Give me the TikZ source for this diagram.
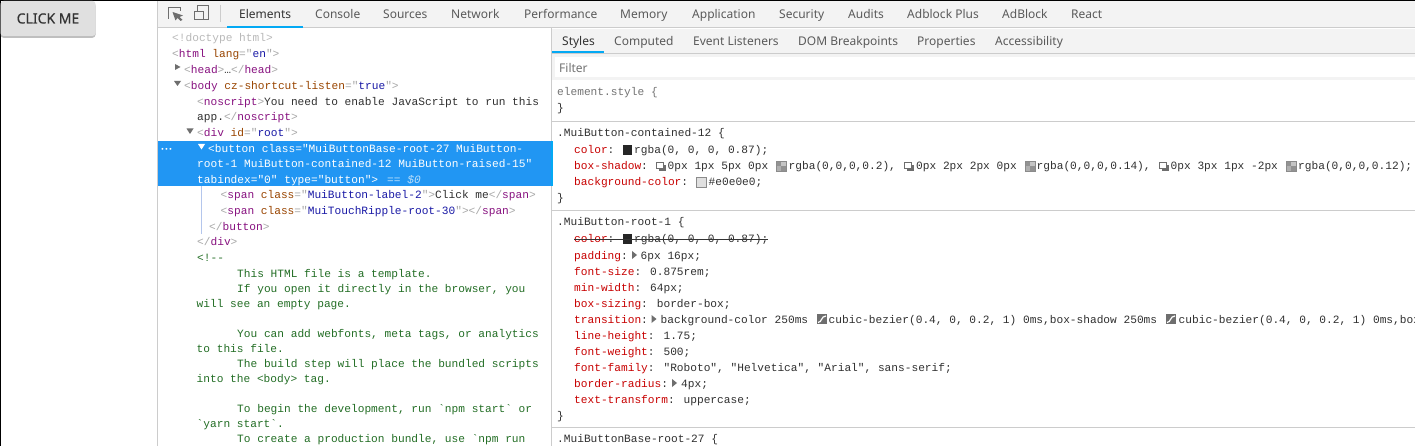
\documentclass[tikz,border=0pt]{standalone}
\usepackage{fontspec}
\usepackage{xcolor}
\usepackage{tikz}
\usetikzlibrary{positioning,shadows}
\newfontfamily\codefont{Liberation Mono}
\newfontfamily\uifont{Noto Sans}
\newfontfamily\btnfont[FakeBold=0.4]{Noto Sans}
\definecolor{barbg}{HTML}{F3F3F3}
\definecolor{rulecol}{HTML}{CCCCCC}
\definecolor{tabblue}{HTML}{03A9F4}
\definecolor{selblue}{HTML}{2196F3}
\definecolor{guidecol}{HTML}{B4C6EC}
\definecolor{tabtext}{HTML}{5A5A5A}
\definecolor{btnbg}{HTML}{E0E0E0}
\definecolor{tagcol}{HTML}{881280}
\definecolor{brkcol}{HTML}{A8A8A8}
\definecolor{attrcol}{HTML}{994500}
\definecolor{valcol}{HTML}{1A1AA6}
\definecolor{cmtcol}{HTML}{236E25}
\definecolor{propcol}{HTML}{C80000}
\definecolor{codecol}{HTML}{303030}
\definecolor{iconcol}{HTML}{6E6E6E}
\newcommand{\tg}[1]{\textcolor{tagcol}{#1}}
\newcommand{\bk}[1]{\textcolor{brkcol}{#1}}
\newcommand{\at}[1]{\textcolor{attrcol}{#1}}
\newcommand{\vl}[1]{\textcolor{valcol}{#1}}
\newcommand{\pr}[1]{\textcolor{propcol}{#1}}
\tikzset{
  codeline/.style={inner sep=0pt, anchor=base west, text=codecol, font=\codefont\fontsize{11.17}{13}\selectfont},
  cmtline/.style={codeline, text=cmtcol},
  selline/.style={codeline, text=white},
  tablabel/.style={inner sep=0pt, anchor=base west, text=tabtext, font=\uifont\fontsize{12}{14}\selectfont},
  bar/.style={fill=barbg, draw=none},
  rulel/.style={draw=rulecol, line width=1pt},
  tri/.style={fill=iconcol, draw=none},
  shadowicon/.pic={
    \fill[iconcol] (3,-1) rectangle (10,5);
    \draw[iconcol, fill=white, line width=1pt] (0.5,-3.5) rectangle (7,3);
  },
  alphaswatch/.pic={
    \fill[iconcol!75] (0,-5) rectangle (5,0);
    \fill[iconcol!75] (5,0) rectangle (10,5);
    \fill[iconcol!40] (5,-5) rectangle (10,0);
    \fill[iconcol!55] (0,0) rectangle (5,5);
    \draw[iconcol!80, line width=0.6pt] (0,-5) rectangle (10,5);
  },
  curveicon/.pic={
    \fill[iconcol] (0,-5) rectangle (10,5);
    \draw[white, line width=1.2pt] (1,3.5) .. controls (5,3.5) and (4,-3) .. (9,-3);
  },
}
\begin{document}
\begin{tikzpicture}[x=1pt,y=-1pt]
\useasboundingbox (0,0) rectangle (1415,446);
\clip (0,0) rectangle (1415,446);
\fill[white] (0,0) rectangle (1415,446);
\fill[black] (0,0) rectangle (1415,1);
\fill[black] (0,0) rectangle (1,446);

\node[inner sep=0pt, minimum width=95pt, minimum height=35pt, rounded corners=3pt, fill=btnbg,
  drop shadow={opacity=0.5, shadow xshift=0pt, shadow yshift=-1.8pt},
  text=black!80, font=\btnfont\fontsize{14}{16}\selectfont] (clickbtn) at (48,18.5) {CLICK ME};

\fill[bar] (158,1) rectangle (1415,28);
\draw[rulel] (158,28) -- (1415,28);
\draw[rulel] (157.5,1) -- (157.5,446);
\draw[iconcol, line width=1pt] (168.5,19) -- (168.5,7.5) -- (180,7.5) -- (180,11);
\fill[iconcol] (172.5,12) -- (183,15.5) -- (179.5,17) -- (182.5,20) -- (180.5,21) -- (177.5,18) -- (175.5,20.5) -- cycle;
\draw[iconcol, line width=1pt] (197.5,5.5) rectangle (208,20);
\draw[iconcol, fill=barbg, line width=1pt] (194.5,11.5) rectangle (203,20);
\draw[rulecol, line width=1pt] (220.5,5) -- (220.5,22);
\fill[tabblue] (227,26) rectangle (303,28);

\node[tablabel, text=black!80] (tabelements) at (239,18.7) {Elements};
\node[tablabel] (tabconsole) at (315,18.7) {Console};
\node[tablabel] (tabsources) at (383,18.7) {Sources};
\node[tablabel] (tabnetwork) at (451,18.7) {Network};
\node[tablabel] (tabperf) at (524,18.7) {Performance};
\node[tablabel] (tabmemory) at (620,18.7) {Memory};
\node[tablabel] (tabapp) at (692,18.7) {Application};
\node[tablabel] (tabsecurity) at (779,18.7) {Security};
\node[tablabel] (tabaudits) at (848,18.7) {Audits};
\node[tablabel] (tabadplus) at (907,18.7) {Adblock Plus};
\node[tablabel] (tabadblock) at (1002,18.7) {AdBlock};
\node[tablabel] (tabreact) at (1071,18.7) {React};

\fill[selblue] (158,141) rectangle (551,186);
\draw[guidecol, line width=1pt] (201.5,186) -- (201.5,234);
\draw[rulel] (551.5,28) -- (551.5,446);

\node[codeline, text=brkcol!80] (l1) at (172,41.5) {<!doctype html>};
\node[codeline] (l2) at (172,57.7) {\bk{<}\tg{html} \at{lang}\bk{="}\vl{en}\bk{">}};
\fill[tri] (175,64) -- (180.5,67) -- (175,70) -- cycle;
\node[codeline] (l3) at (184,73.7) {\bk{<}\tg{head}\bk{>}…\bk{</}\tg{head}\bk{>}};
\fill[tri] (174,81) -- (181,81) -- (177.5,86) -- cycle;
\node[codeline] (l4) at (184,89.7) {\bk{<}\tg{body} \at{cz-shortcut-listen}\bk{="}\vl{true}\bk{">}};
\node[codeline] (l5) at (197,105.7) {\bk{<}\tg{noscript}\bk{>}You need to enable JavaScript to run this};
\node[codeline] (l6) at (197,120.7) {app.\bk{</}\tg{noscript}\bk{>}};
\fill[tri] (186.5,128.5) -- (193.5,128.5) -- (190,134) -- cycle;
\node[codeline] (l7) at (197,136.5) {\bk{<}\tg{div} \at{id}\bk{="}\vl{root}\bk{">}};

\node[selline, text=white] (seldots) at (160.5,152) {\fontsize{6.5}{7}\selectfont\textbf{•••}};
\fill[white] (198,144) -- (205,144) -- (201.5,149.5) -- cycle;
\node[selline] (l8) at (208,152.5) {<button class="MuiButtonBase-root-27 MuiButton-};
\node[selline] (l9) at (197,167.7) {root-1 MuiButton-contained-12 MuiButton-raised-15"};
\node[selline] (l10) at (197,183.5) {tabindex="0" type="button">};
\node[selline, text=white!70!selblue, font=\codefont\itshape\fontsize{11.17}{13}\selectfont] (l10b) at (387,183.5) {== \$0};
\node[codeline] (l11) at (220.5,199) {\bk{<}\tg{span} \at{class}\bk{="}\vl{MuiButton-label-2}\bk{">}Click me\bk{</}\tg{span}\bk{>}};
\node[codeline] (l12) at (220.5,214.5) {\bk{<}\tg{span} \at{class}\bk{="}\vl{MuiTouchRipple-root-30}\bk{">}\bk{</}\tg{span}\bk{>}};
\node[codeline] (l13) at (209,230.5) {\bk{</}\tg{button}\bk{>}};
\node[codeline] (l14) at (197,246) {\bk{</}\tg{div}\bk{>}};
\node[cmtline] (l15) at (197,261.5) {<!--};
\node[cmtline] (l16) at (237,277) {This HTML file is a template.};
\node[cmtline] (l17) at (237,292) {If you open it directly in the browser, you};
\node[cmtline] (l18) at (196.5,307) {will see an empty page.};
\node[cmtline] (l19) at (237,337) {You can add webfonts, meta tags, or analytics};
\node[cmtline] (l20) at (196.5,352) {to this file.};
\node[cmtline] (l21) at (237,367) {The build step will place the bundled scripts};
\node[cmtline] (l22) at (196.5,382) {into the <body> tag.};
\node[cmtline] (l23) at (237,412) {To begin the development, run `npm start` or};
\node[cmtline] (l24) at (196.5,427) {`yarn start`.};
\node[cmtline] (l25) at (237,442) {To create a production bundle, use `npm run};

\fill[bar] (552,29) rectangle (1415,53);
\draw[rulel] (552,53.5) -- (1415,53.5);
\fill[tabblue] (552,51) rectangle (604,53);
\node[tablabel, text=black!80] (tabstyles) at (562,45.7) {Styles};
\node[tablabel] (tabcomputed) at (614,45.7) {Computed};
\node[tablabel] (tabevents) at (693,45.7) {Event Listeners};
\node[tablabel] (tabdom) at (798,45.7) {DOM Breakpoints};
\node[tablabel] (tabprops) at (917,45.7) {Properties};
\node[tablabel] (tabaccess) at (995,45.7) {Accessibility};

\fill[bar] (552,54) rectangle (1415,80);
\fill[white] (555,57) rectangle (1415,77);
\node[tablabel, text=black!55] (filterlbl) at (559,72.7) {Filter};

\draw[rulel] (552,121.5) -- (1415,121.5);
\draw[rulel] (552,210.5) -- (1415,210.5);
\draw[rulel] (552,427.5) -- (1415,427.5);
\fill[tabblue] (551,141) rectangle (552.5,186);

\node[codeline, text=black!55] (s1) at (557,95.5) {element.style \{};
\node[codeline] (s2) at (557,112) {\}};

\node[codeline] (s3) at (557,136.5) {.MuiButton-contained-12 \{};
\node[codeline] (s4) at (574,154) {\pr{color}: };
\fill[black!85] (622.5,145) rectangle (632,155);
\node[codeline] (s4b) at (634,154) {rgba(0, 0, 0, 0.87);};
\node[codeline] (s5) at (574,170) {\pr{box-shadow}:};
\pic at (656,166) {shadowicon};
\node[codeline] (s5b) at (667.5,170) {0px 1px 5px 0px};
\pic at (776,166) {alphaswatch};
\node[codeline] (s5c) at (788.5,170) {rgba(0,0,0,0.2),};
\pic at (904,166) {shadowicon};
\node[codeline] (s5d) at (916,170) {0px 2px 2px 0px};
\pic at (1025,166) {alphaswatch};
\node[codeline] (s5e) at (1036.5,170) {rgba(0,0,0,0.14),};
\pic at (1159,166) {shadowicon};
\node[codeline] (s5f) at (1170.5,170) {0px 3px 1px -2px};
\pic at (1286,166) {alphaswatch};
\node[codeline] (s5g) at (1298,170) {rgba(0,0,0,0.12);};
\node[codeline] (s6) at (574,186) {\pr{background-color}:};
\draw[iconcol!80, fill=btnbg, line width=0.6pt] (696.5,177) rectangle (706,187);
\node[codeline] (s6b) at (708.5,186) {\#e0e0e0;};
\node[codeline] (s7) at (557,202) {\}};

\node[codeline] (s8) at (557,225.5) {.MuiButton-root-1 \{};
\node[codeline] (s9) at (574,243) {\pr{color}: };
\fill[black!85] (622.5,234) rectangle (632,244);
\node[codeline] (s9b) at (634,243) {rgba(0, 0, 0, 0.87);};
\draw[black!80, line width=0.8pt] (574,239.5) -- (768,239.5);
\node[codeline] (s10) at (574,259) {\pr{padding}:};
\fill[tri] (632,251) -- (637,255) -- (632,259) -- cycle;
\node[codeline] (s10b) at (640.5,259) {6px 16px;};
\node[codeline] (s11) at (574,275) {\pr{font-size}: 0.875rem;};
\node[codeline] (s12) at (574,291) {\pr{min-width}: 64px;};
\node[codeline] (s13) at (574,307) {\pr{box-sizing}: border-box;};
\node[codeline] (s14) at (574,323) {\pr{transition}:};
\fill[tri] (651.5,315) -- (656.5,319) -- (651.5,323) -- cycle;
\node[codeline] (s14b) at (660.5,323) {background-color 250ms};
\pic at (817,319) {curveicon};
\node[codeline] (s14c) at (828.5,323) {cubic-bezier(0.4, 0, 0.2, 1) 0ms,box-shadow 250ms};
\pic at (1166,319) {curveicon};
\node[codeline] (s14d) at (1178.5,323) {cubic-bezier(0.4, 0, 0.2, 1) 0ms,box};
\node[codeline] (s15) at (574,339) {\pr{line-height}: 1.75;};
\node[codeline] (s16) at (574,355) {\pr{font-weight}: 500;};
\node[codeline] (s17) at (574,371) {\pr{font-family}: "Roboto", "Helvetica", "Arial", sans-serif;};
\node[codeline] (s18) at (574,387) {\pr{border-radius}:};
\fill[tri] (672,379) -- (677,383) -- (672,387) -- cycle;
\node[codeline] (s18b) at (681,387) {4px;};
\node[codeline] (s19) at (574,403) {\pr{text-transform}: uppercase;};
\node[codeline] (s20) at (557,419) {\}};

\node[codeline] (s21) at (557,442) {.MuiButtonBase-root-27 \{};
\end{tikzpicture}
\end{document}
